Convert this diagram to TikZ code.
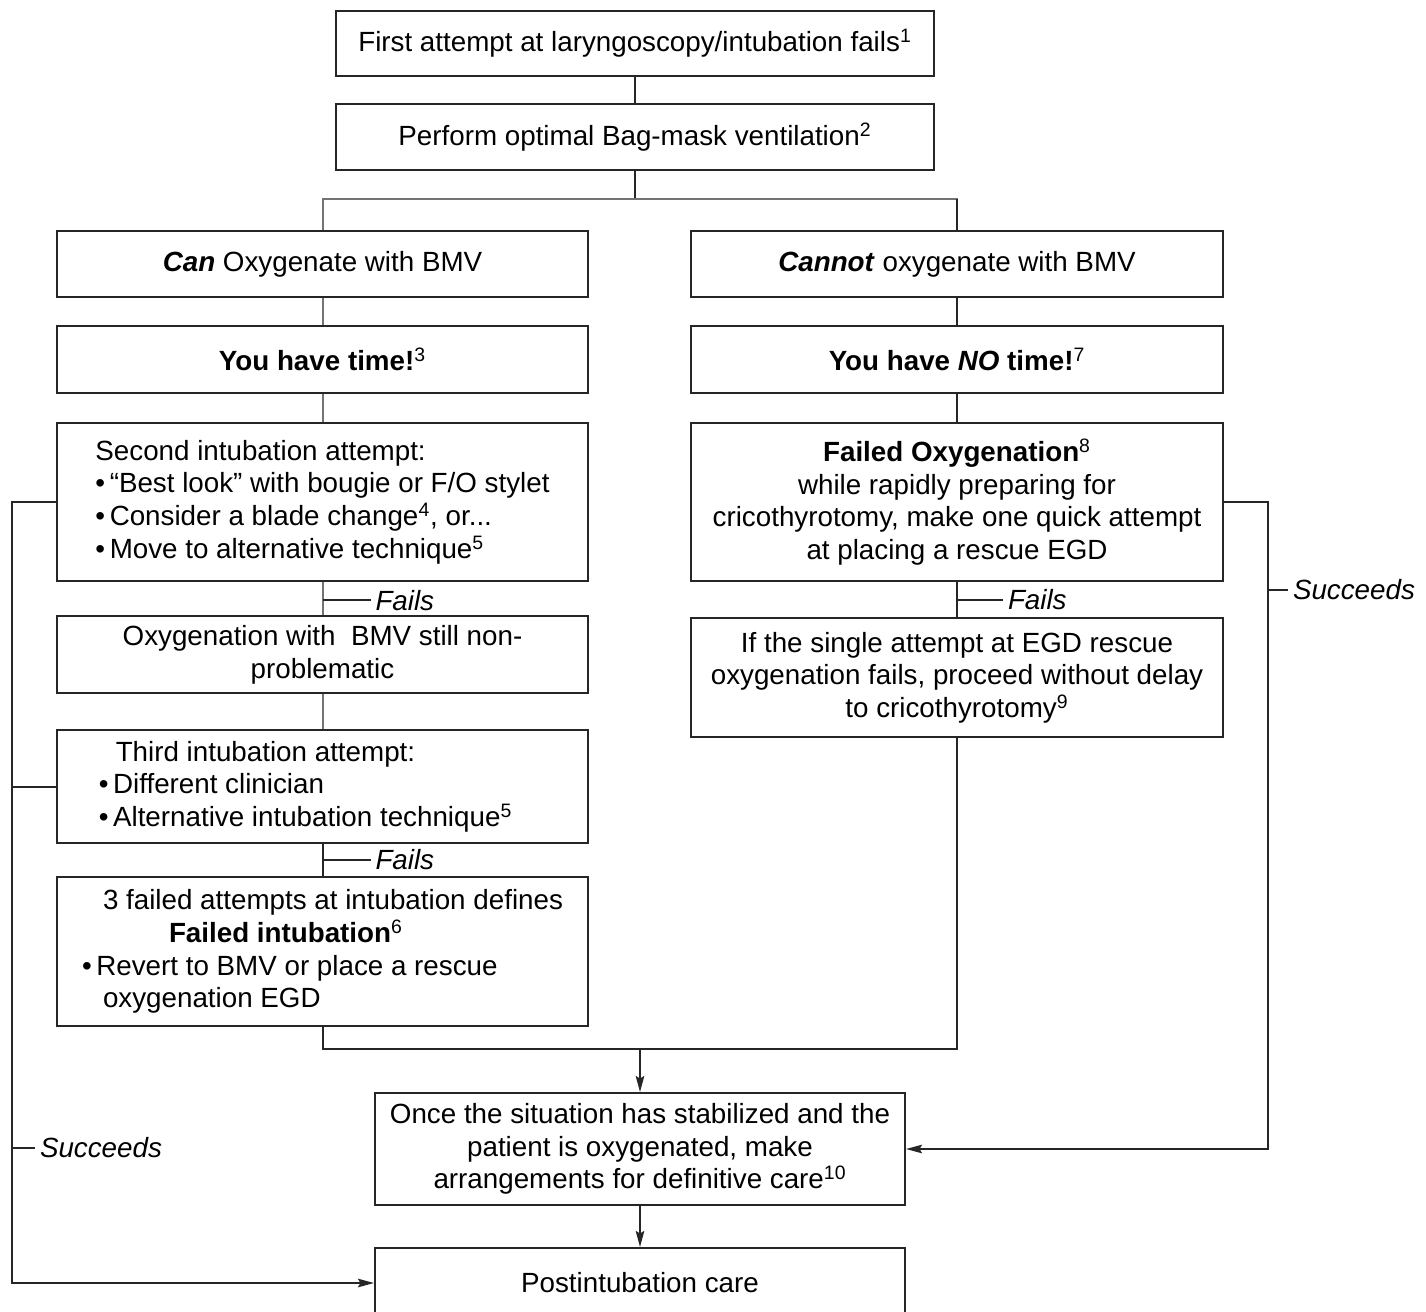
\documentclass[tikz,border=0pt]{standalone}
\usepackage{fontspec}
\setmainfont{Liberation Sans}
\usetikzlibrary{arrows.meta,positioning,calc}
\colorlet{bd}{black!85}
\colorlet{gl}{black!55}
\tikzset{
  bx/.style    = { draw=bd, line width=0.4mm, inner sep=1mm, font=\fontsize{15.8}{18.6}\selectfont },
  lnk/.style   = { draw=bd, line width=0.4mm },
  glnk/.style  = { draw=gl, line width=0.4mm },
  arr/.style   = { lnk, -{Stealth[length=3.2mm,width=1.7mm,inset=0.5mm]} },
  lbl/.style   = { font=\fontsize{15.8}{18}\selectfont\itshape, inner sep=0.8mm }
}
\newcommand{\fn}[1]{\textsuperscript{#1}}
\begin{document}
\begin{tikzpicture}[x=0.2mm,y=-0.2mm]
  \useasboundingbox (0,0) rectangle (1426,1312);
  % top
  \node[bx, minimum width=119.6mm, minimum height=13mm] (first) at (635,43.5)
    {First attempt at laryngoscopy/intubation fails\fn{1}};
  \node[bx, minimum width=119.6mm, minimum height=13.2mm] (bmv) at (635,137)
    {Perform optimal Bag-mask ventilation\fn{2}};
  % left column
  \node[bx, minimum width=106.2mm, minimum height=13.2mm] (can) at (322.5,264)
    {\textbf{\textit{Can}} Oxygenate with BMV};
  \node[bx, minimum width=106.2mm, minimum height=13.4mm] (time) at (322.5,359.5)
    {\textbf{You have time!}\fn{3}};
  \node[bx, minimum width=106.2mm, minimum height=31.6mm, align=left] (sec) at (322.5,502)
    {Second intubation attempt:\\
     \textbullet\,“Best look” with bougie or F/O stylet\\
     \textbullet\,Consider a blade change\fn{4}, or...\\
     \textbullet\,Move to alternative technique\fn{5}};
  \node[bx, minimum width=106.2mm, minimum height=15.4mm, align=center] (still) at (322.5,654.5)
    {Oxygenation with\ \ BMV still non-\\problematic};
  \node[bx, minimum width=106.2mm, minimum height=22.6mm, align=left] (third) at (322.5,786.5)
    {\hspace*{3.4mm}Third intubation attempt:\\
     \textbullet\,Different clinician\\
     \textbullet\,Alternative intubation technique\fn{5}\hspace*{6.8mm}};
  \node[bx, minimum width=106.2mm, minimum height=29.8mm, align=left] (fint) at (322.5,951.5)
    {\hspace*{4.2mm}3 failed attempts at intubation defines\\
     \hspace*{17.4mm}\textbf{Failed intubation}\fn{6}\\
     \textbullet\,Revert to BMV or place a rescue\\
     \hspace*{4.2mm}oxygenation EGD};
  % right column
  \node[bx, minimum width=106.4mm, minimum height=13.2mm] (cannot) at (957,264)
    {\textbf{\textit{Cannot}} oxygenate with BMV};
  \node[bx, minimum width=106.4mm, minimum height=13.4mm] (notime) at (957,359.5)
    {\textbf{You have \textit{NO} time!}\fn{7}};
  \node[bx, minimum width=106.4mm, minimum height=31.6mm, align=center] (ox) at (957,502)
    {\textbf{Failed Oxygenation}\fn{8}\\
     while rapidly preparing for\\
     cricothyrotomy, make one quick attempt\\
     at placing a rescue EGD};
  \node[bx, minimum width=106.4mm, minimum height=23.8mm, align=center] (egd) at (957,677.5)
    {If the single attempt at EGD rescue\\
     oxygenation fails, proceed without delay\\
     to cricothyrotomy\fn{9}};
  % bottom
  \node[bx, minimum width=106mm, minimum height=22.4mm, align=center] (stab) at (640,1149)
    {Once the situation has stabilized and the\\
     patient is oxygenated, make\\
     arrangements for definitive care\fn{10}};
  \node[bx, minimum width=106mm, minimum height=14mm] (post) at (640,1283)
    {Postintubation care};

  % connectors
  \coordinate (br) at (635,199);
  \coordinate (mg) at (640,1049);
  \draw[lnk] (first) -- (bmv);
  \draw[lnk] (bmv) -- (br);
  \draw[glnk] (can.north) |- (br) -| (cannot.north);
  \draw[lnk] (cannot.north) -- (cannot.north |- br);
  \draw[glnk] (can) -- (time);
  \draw[glnk] (time) -- (sec);
  \draw[glnk] (sec) -- (still) coordinate[pos=0.55] (f1);
  \draw[glnk] (still) -- (third);
  \draw[lnk] (third) -- (fint) coordinate[pos=0.5] (f2);
  \draw[lnk] (cannot) -- (notime);
  \draw[lnk] (notime) -- (ox);
  \draw[lnk] (ox) -- (egd) coordinate[pos=0.5] (f3);
  \draw[lnk] (f1) -- ++(48,0) node[lbl,right] {Fails};
  \draw[lnk] (f2) -- ++(48,0) node[lbl,right] {Fails};
  \draw[lnk] (f3) -- ++(46,0) node[lbl,right] {Fails};
  \draw[lnk] (fint.south) |- (mg);
  \draw[lnk] (egd.south) |- (mg);
  \draw[arr] (mg) -- (stab);
  \draw[arr] (stab) -- (post);
  % succeeds
  \coordinate (sl) at (13,1148);
  \coordinate (sr) at (1267,590);
  \draw[arr] (sec.west) -- ++(-44,0) |- (post.west);
  \draw[lnk] (third.west) -- (third.west -| sl);
  \draw[lnk] (sl) -- ++(22,0) node[lbl,right] {Succeeds};
  \draw[arr] (ox.east) -- ++(44,0) |- (stab.east);
  \draw[lnk] (sr) -- ++(21,0) node[lbl,right] {Succeeds};
\end{tikzpicture}
\end{document}
